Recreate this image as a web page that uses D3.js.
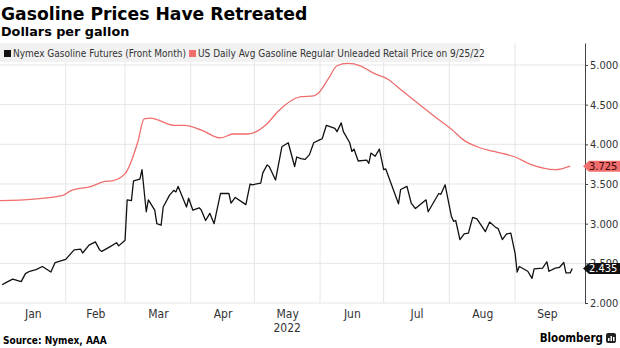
<!DOCTYPE html>
<html>
<head>
<meta charset="utf-8">
<script src="https://cdn.jsdelivr.net/npm/d3@7"></script>
<style>
  body { margin: 0; background: #fff; }
  svg { display: block; }
  text { font-family: "DejaVu Sans Condensed", "DejaVu Sans", sans-serif; font-stretch: condensed; }
</style>
</head>
<body>
<svg id="chart" width="620" height="348"></svg>
<script>
// values
const futuresDates = ["2022-01-02","2022-01-04","2022-01-07","2022-01-11","2022-01-13","2022-01-15","2022-01-18","2022-01-21","2022-01-25","2022-01-27",
  "2022-02-01","2022-02-05","2022-02-08","2022-02-09","2022-02-12","2022-02-15","2022-02-17","2022-02-18","2022-02-22","2022-02-25","2022-02-26",
  "2022-03-01","2022-03-02","2022-03-04","2022-03-05","2022-03-08","2022-03-09","2022-03-11","2022-03-12","2022-03-15","2022-03-16","2022-03-18",
  "2022-03-19","2022-03-22","2022-03-24","2022-03-25","2022-03-26","2022-03-30","2022-03-31","2022-04-02","2022-04-05","2022-04-06","2022-04-08",
  "2022-04-10","2022-04-12","2022-04-15","2022-04-19","2022-04-20","2022-04-22","2022-04-27","2022-04-29","2022-04-30","2022-05-04","2022-05-05",
  "2022-05-07","2022-05-08","2022-05-11","2022-05-14","2022-05-17","2022-05-20","2022-05-21","2022-05-23","2022-05-25","2022-05-27","2022-05-29",
  "2022-06-01","2022-06-02","2022-06-04","2022-06-08","2022-06-09","2022-06-11","2022-06-12","2022-06-15","2022-06-16","2022-06-17","2022-06-19",
  "2022-06-23","2022-06-24","2022-06-25","2022-06-27","2022-06-29","2022-07-01","2022-07-02","2022-07-08","2022-07-09","2022-07-12","2022-07-14",
  "2022-07-16","2022-07-21","2022-07-22","2022-07-27","2022-07-28","2022-07-30","2022-08-02","2022-08-03","2022-08-04","2022-08-06","2022-08-08",
  "2022-08-10","2022-08-12","2022-08-14","2022-08-18","2022-08-20","2022-08-23","2022-08-24","2022-08-26","2022-08-28","2022-08-30","2022-09-01",
  "2022-09-02","2022-09-03","2022-09-07","2022-09-09","2022-09-10","2022-09-14","2022-09-16","2022-09-17","2022-09-20","2022-09-22","2022-09-24",
  "2022-09-25","2022-09-27","2022-09-28"];
const futuresValues = [2.23,2.26,2.30,2.27,2.37,2.40,2.42,2.46,2.39,2.51,
  2.55,2.67,2.68,2.63,2.73,2.77,2.67,2.65,2.71,2.76,2.72,
  2.79,3.30,3.29,3.54,3.56,3.68,3.15,3.30,3.17,3.00,2.98,
  3.21,3.36,3.42,3.40,3.47,3.21,3.32,3.17,3.20,3.17,3.04,
  3.13,3.00,3.38,3.38,3.26,3.33,3.24,3.50,3.49,3.51,3.64,
  3.74,3.72,3.55,3.97,4.02,3.72,3.84,3.82,3.81,3.87,4.02,
  4.06,4.07,4.24,4.20,4.16,4.27,4.16,4.02,3.91,3.94,3.79,
  3.80,3.76,3.89,3.85,3.94,3.68,3.69,3.25,3.43,3.47,3.26,
  3.19,3.30,3.15,3.38,3.37,3.49,3.09,3.03,3.04,2.80,2.87,
  2.88,3.08,3.06,2.90,3.02,2.95,2.94,2.80,2.87,2.88,2.63,
  2.39,2.46,2.40,2.31,2.43,2.44,2.52,2.40,2.44,2.45,2.51,
  2.38,2.38,2.435];

const retailDates = ["2022-01-01","2022-01-17","2022-01-31","2022-02-03","2022-02-13","2022-02-19","2022-02-23","2022-03-01","2022-03-07",
  "2022-03-10","2022-03-13","2022-03-24","2022-03-29","2022-04-06","2022-04-15","2022-04-21","2022-04-28","2022-05-07","2022-05-12",
  "2022-05-23","2022-05-29","2022-05-31","2022-06-05","2022-06-09","2022-06-14","2022-06-20","2022-06-26","2022-07-03","2022-07-09",
  "2022-07-17","2022-07-25","2022-08-02","2022-08-08","2022-08-15","2022-08-22","2022-09-01","2022-09-09","2022-09-20","2022-09-27"];
const retailValues = [3.29,3.31,3.36,3.41,3.47,3.53,3.54,3.63,4.03,
  4.32,4.33,4.24,4.24,4.18,4.08,4.13,4.13,4.26,4.41,
  4.60,4.61,4.64,4.83,4.99,5.02,4.99,4.90,4.82,4.69,
  4.52,4.35,4.19,4.05,3.96,3.91,3.84,3.74,3.68,3.725];

const yTicks = [2, 2.5, 3, 3.5, 4, 4.5, 5];
const monthLabels = ["Jan", "Feb", "Mar", "Apr", "May", "Jun", "Jul", "Aug", "Sep"];
const yearLabel = "2022";
const seriesNames = ["Nymex Gasoline Futures (Front Month)", "US Daily Avg Gasoline Regular Unleaded Retail Price on 9/25/22"];
const seriesColors = ["#111111", "#f06e6e"];

const svg = d3.select("#chart");
const parse = d3.timeParse("%Y-%m-%d");

const plotLeft = 0, plotRight = 585, plotTop = 43, plotBottom = 303;

const x = d3.scaleTime()
  .domain([parse("2022-01-01"), parse("2022-10-04")])
  .range([plotLeft, plotRight]);

const y = d3.scaleLinear()
  .domain([2, 5.277])
  .range([plotBottom, plotTop]);

const futures = futuresDates.map((d, i) => ({ date: parse(d), value: futuresValues[i] }));
const retail = retailDates.map((d, i) => ({ date: parse(d), value: retailValues[i] }));

// titles
svg.append("text").attr("x", 1).attr("y", 19.5)
  .style("font-family", "'DejaVu Sans', sans-serif").style("font-stretch", "normal")
  .attr("font-size", 17.2).attr("font-weight", "bold").attr("fill", "#000")
  .text("Gasoline Prices Have Retreated");
svg.append("text").attr("x", 1).attr("y", 35.5)
  .style("font-family", "'DejaVu Sans', sans-serif").style("font-stretch", "normal")
  .attr("font-size", 12.8).attr("font-weight", "bold").attr("fill", "#000")
  .text("Dollars per gallon");

// grid
const monthStarts = d3.timeMonth.range(parse("2022-01-01"), parse("2022-10-01"));

svg.append("g").selectAll("line")
  .data(yTicks)
  .join("line")
  .attr("x1", plotLeft).attr("x2", plotRight)
  .attr("y1", d => y(d)).attr("y2", d => y(d))
  .attr("stroke", "#e6e6e6").attr("stroke-width", 1);

svg.append("g").selectAll("line")
  .data(monthStarts.slice(1))
  .join("line")
  .attr("x1", d => x(d)).attr("x2", d => x(d))
  .attr("y1", plotTop).attr("y2", plotBottom)
  .attr("stroke", "#e6e6e6").attr("stroke-width", 1);

// legend
const legend = svg.append("g");
legend.append("rect").attr("x", 0).attr("y", 43).attr("width", 480).attr("height", 19)
  .attr("fill", "#f0f0f0").attr("opacity", 0.9);
const legendX = [4, 189];
seriesNames.forEach((name, i) => {
  legend.append("rect").attr("x", legendX[i]).attr("y", 50).attr("width", 7).attr("height", 7)
    .attr("fill", seriesColors[i]);
  legend.append("text").attr("x", legendX[i] + 9).attr("y", 57)
    .attr("font-size", 10).attr("fill", "#333").text(name);
});

// lines
svg.append("path").datum(retail)
  .attr("fill", "none").attr("stroke", seriesColors[1]).attr("stroke-width", 1.3)
  .attr("d", d3.line().x(d => x(d.date)).y(d => y(d.value)).curve(d3.curveMonotoneX));

svg.append("path").datum(futures)
  .attr("fill", "none").attr("stroke", seriesColors[0]).attr("stroke-width", 1.3)
  .attr("stroke-linejoin", "round")
  .attr("d", d3.line().x(d => x(d.date)).y(d => y(d.value)));

// right axis
const yAxis = svg.append("g")
  .attr("transform", `translate(${plotRight},0)`)
  .call(d3.axisRight(y).tickValues(yTicks).tickFormat(d3.format(".3f")).tickSize(3).tickSizeOuter(0).tickPadding(2));
yAxis.attr("font-family", null);
yAxis.select(".domain").attr("stroke", "#444");
yAxis.selectAll(".tick line").attr("stroke", "#444");
yAxis.selectAll("text").attr("font-size", 11).attr("fill", "#333");

// month labels (centred within each month)
const monthMids = monthStarts.map(d => new Date((+d + +d3.timeMonth.offset(d, 1)) / 2));
const xAxis = svg.append("g")
  .attr("transform", `translate(0,${plotBottom})`)
  .call(d3.axisBottom(x).tickValues(monthMids).tickFormat((d, i) => monthLabels[i]).tickSize(0).tickPadding(6));
xAxis.attr("font-family", null);
xAxis.select(".domain").remove();
xAxis.selectAll("text").attr("font-size", 12).attr("fill", "#333");

svg.append("text").attr("x", x(monthMids[4])).attr("y", 332).attr("text-anchor", "middle")
  .attr("font-size", 12).attr("fill", "#333").text(yearLabel);

// last value tags, drawn over the axis labels as in the original
const tags = [
  { value: futuresValues[futuresValues.length - 1], fill: seriesColors[0], color: "#fff" },
  { value: retailValues[retailValues.length - 1], fill: seriesColors[1], color: "#3a0606" }
];
tags.forEach(t => {
  const cy = y(t.value);
  svg.append("path")
    .attr("d", `M${plotRight - 2},${cy} L${plotRight + 4},${cy - 5.5} L620,${cy - 5.5} L620,${cy + 5.5} L${plotRight + 4},${cy + 5.5} Z`)
    .attr("fill", t.fill);
  svg.append("text").attr("x", plotRight + 4).attr("y", cy + 4)
    .attr("font-size", 11).attr("fill", t.color).text(d3.format(".3f")(t.value));
});

// footer
svg.append("text").attr("x", 3).attr("y", 344)
  .attr("font-size", 10).attr("font-weight", "bold").attr("fill", "#000")
  .text("Source: Nymex, AAA");
svg.append("text").attr("x", 603).attr("y", 342).attr("text-anchor", "end")
  .attr("font-size", 11.5).attr("font-weight", "bold").attr("fill", "#000")
  .text("Bloomberg");
const logo = svg.append("g").attr("transform", "translate(606,333)");
logo.append("rect").attr("width", 10).attr("height", 10).attr("rx", 2).attr("fill", "#222");
[[2, 5, 1.5, 3], [4.5, 3, 1.5, 5], [7, 4, 1.5, 4]].forEach(b =>
  logo.append("rect").attr("x", b[0]).attr("y", b[1]).attr("width", b[2]).attr("height", b[3]).attr("fill", "#fff"));
</script>
</body>
</html>
